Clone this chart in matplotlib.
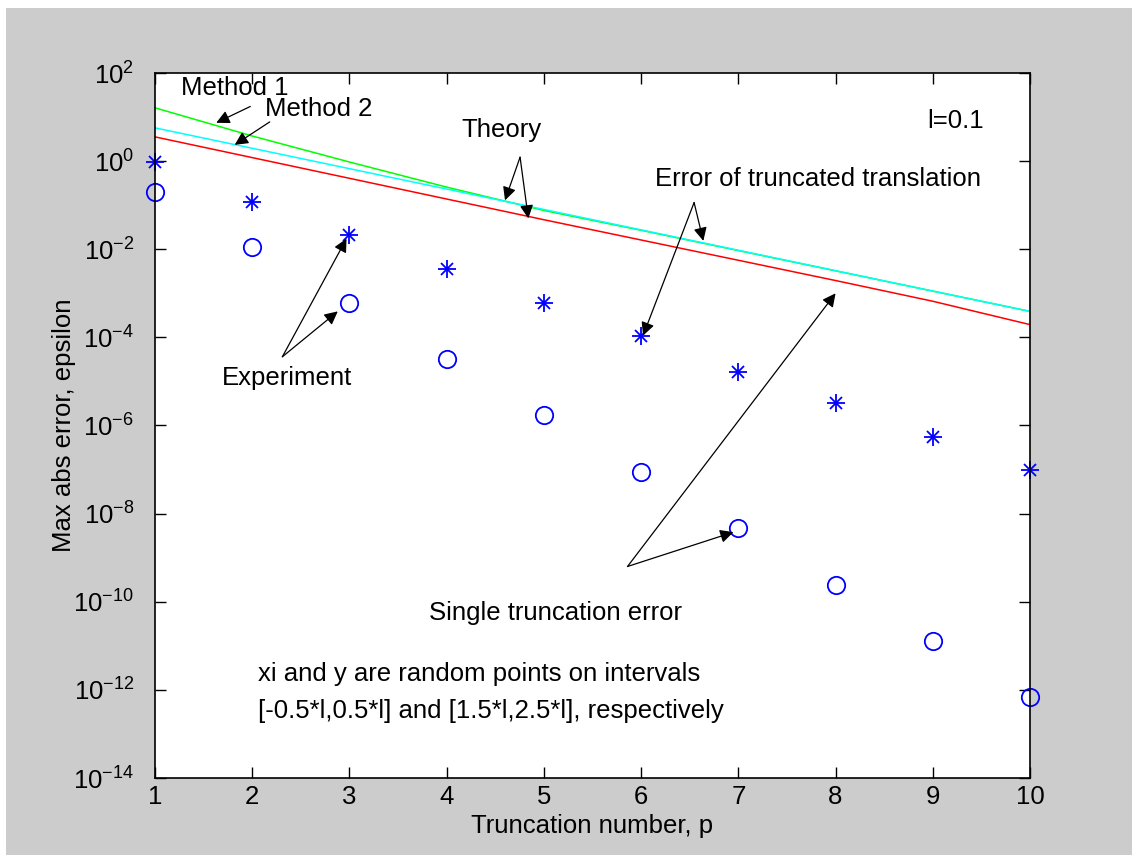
import numpy as np
import matplotlib
matplotlib.use("Agg")
from matplotlib import pyplot as plt
from matplotlib.patches import Rectangle
from matplotlib.ticker import FuncFormatter

plt.rcParams['font.family'] = ['Liberation Sans', 'DejaVu Sans']
plt.rcParams['mathtext.fontset'] = 'custom'
plt.rcParams['mathtext.rm'] = 'Liberation Sans'
plt.rcParams['mathtext.it'] = 'Liberation Sans'

# truncation number
p = np.arange(1, 11)

# experiment (log10 of max abs error)
log_err_star = [-0.02, -0.92, -1.67, -2.45, -3.23, -3.98, -4.78, -5.49, -6.27, -7.02]
log_err_circ = [-0.69, -1.95, -3.23, -4.49, -5.77, -7.05, -8.33, -9.63, -10.89, -12.17]

# theory curves (log10)
log_method1 = [1.21, 0.57, -0.02, -0.59, -1.12, -1.57, -2.03, -2.49, -2.95, -3.41]
log_method2 = [0.755, 0.292, -0.171, -0.634, -1.097, -1.56, -2.023, -2.486, -2.949, -3.41]
log_trunc = [0.55, 0.08, -0.39, -0.86, -1.33, -1.79, -2.25, -2.71, -3.18, -3.71]

err_star = 10.0 ** np.array(log_err_star)
err_circ = 10.0 ** np.array(log_err_circ)
method1 = 10.0 ** np.array(log_method1)
method2 = 10.0 ** np.array(log_method2)
trunc = 10.0 ** np.array(log_trunc)

W, H = 1132, 855
fs = 18.5

fig = plt.figure(figsize=(W / 100, H / 100), dpi=100, facecolor='white')
fig.patches.append(Rectangle((6 / W, 0), 1, 1 - 8 / H, transform=fig.transFigure,
                             facecolor='#cccccc', edgecolor='none', zorder=-10))

ax = fig.add_axes([155 / W, 1 - 778 / H, (1030 - 155) / W, (778 - 73) / H])
ax.set_facecolor('white')

ax.plot(p, method1, color=(0, 1, 0), lw=1.1)
ax.plot(p, method2, color=(0, 1, 1), lw=1.1)
ax.plot(p, trunc, color=(1, 0, 0), lw=1.1)

# MATLAB style asterisk: + and x overlaid
ax.plot(p, err_star, ls='none', marker='+', ms=13, mew=1.3, color='blue', clip_on=False)
ax.plot(p, err_star, ls='none', marker='x', ms=9, mew=1.3, color='blue', clip_on=False)
ax.plot(p, err_circ, ls='none', marker='o', ms=12.5, mew=1.3, mfc='none', mec='blue', clip_on=False)

ax.set_yscale('log')
ax.set_xlim(1, 10)
ax.set_ylim(1e-14, 1e2)
ax.set_xticks(range(1, 11))
ax.set_yticks([10.0 ** k for k in range(-14, 3, 2)])
ax.minorticks_off()
ax.yaxis.set_major_formatter(FuncFormatter(
    lambda v, pos: r'$\mathregular{10^{%d}}$' % int(round(np.log10(v)))))
ax.tick_params(direction='in', length=8, width=1, top=True, right=True,
               labelsize=fs, colors='black')
ax.tick_params(axis='x', pad=5)
ax.tick_params(axis='y', pad=15)
for s in ax.spines.values():
    s.set_linewidth(1.2)

ax.set_xlabel('Truncation number, p', fontsize=fs)
ax.set_ylabel('Max abs error, epsilon', fontsize=fs)
ax.xaxis.set_label_coords(0.5, -(814 - 778) / 705)
ax.yaxis.set_label_coords((64 - 155) / 875, 0.5)
ax.xaxis.label.set_va('top')
ax.yaxis.label.set_va('center')

arrow = dict(arrowstyle='-|>', color='black', lw=0.9, mutation_scale=20, shrinkA=0, shrinkB=0)


def note(text, xy_text, heads, tail, **kw):
    ax.text(xy_text[0], 10 ** xy_text[1], text, fontsize=fs, ha='center', va='center', **kw)
    for hx, hy in heads:
        ax.annotate('', xy=(hx, 10 ** hy), xytext=(tail[0], 10 ** tail[1]), arrowprops=arrow)


note('Method 1', (1.82, 1.65), [(1.63, 0.87)], (1.98, 1.24))
note('Method 2', (2.68, 1.19), [(1.82, 0.37)], (2.18, 0.89))
note('Theory', (4.56, 0.71), [(4.60, -0.89), (4.84, -1.30)], (4.755, 0.09))
note('Error of truncated translation', (7.82, -0.41), [(6.64, -1.81), (6.02, -3.96)], (6.545, -0.94))
note('Experiment', (2.36, -4.92), [(2.97, -1.76), (2.88, -3.41)], (2.31, -4.44))
note('Single truncation error', (5.12, -10.25), [(8.0, -3.0), (6.95, -8.42)], (5.86, -9.2))

ax.text(9.23, 10 ** 0.92, 'l=0.1', fontsize=fs, ha='center', va='center')
ax.text(2.06, 10 ** -11.65, 'xi and y are random points on intervals', fontsize=fs, ha='left', va='center')
ax.text(2.06, 10 ** -12.47, '[-0.5*l,0.5*l] and [1.5*l,2.5*l], respectively', fontsize=fs, ha='left', va='center')

fig.savefig('out.png', dpi=100, facecolor=fig.get_facecolor())
